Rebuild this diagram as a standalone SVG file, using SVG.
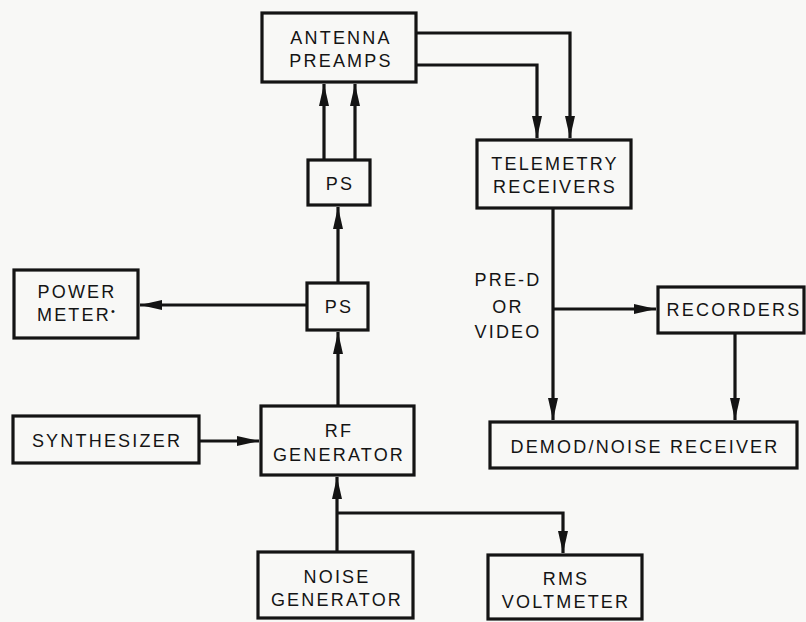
<svg xmlns="http://www.w3.org/2000/svg" width="806" height="622" viewBox="0 0 806 622">
<defs>
<style>
.box{fill:none;stroke:#141414;stroke-width:3.2}
.lbl{font-family:"Liberation Sans",Arial,sans-serif;font-size:18px;fill:#141414;text-anchor:middle;letter-spacing:2.2px}
.ln{fill:none;stroke:#141414;stroke-width:3.2}
.sup{font-size:11px}
</style>
<marker id="ah" viewBox="0 0 22 10" refX="22" refY="5" markerWidth="22" markerHeight="10" markerUnits="userSpaceOnUse" orient="auto">
<path d="M0,0 L22,5 L0,10 Z" fill="#141414"/>
</marker>
</defs>
<rect width="806" height="622" fill="#f8f8f6"/>
<g id="connectors">
<path class="ln" d="M324,160 V84" marker-end="url(#ah)"/>
<path class="ln" d="M355,160 V84" marker-end="url(#ah)"/>
<path class="ln" d="M416,33 H570 V138" marker-end="url(#ah)"/>
<path class="ln" d="M416,65 H537 V138" marker-end="url(#ah)"/>
<path class="ln" d="M338,283 V207" marker-end="url(#ah)"/>
<path class="ln" d="M338,406 V332" marker-end="url(#ah)"/>
<path class="ln" d="M307,305 H140" marker-end="url(#ah)"/>
<path class="ln" d="M199,441 H259" marker-end="url(#ah)"/>
<path class="ln" d="M337,552 V477" marker-end="url(#ah)"/>
<path class="ln" d="M337,513 H563 V553" marker-end="url(#ah)"/>
<path class="ln" d="M553,208 V420" marker-end="url(#ah)"/>
<path class="ln" d="M553,309 H656" marker-end="url(#ah)"/>
<path class="ln" d="M735,333 V420" marker-end="url(#ah)"/>
</g>
<g id="antenna-preamps">
<rect class="box" x="262" y="13" width="154" height="69"/>
<text class="lbl" x="341" y="44">ANTENNA</text>
<text class="lbl" x="341" y="67">PREAMPS</text>
</g>
<g id="ps-top">
<rect class="box" x="308" y="160" width="62" height="45"/>
<text class="lbl" x="340" y="190">PS</text>
</g>
<g id="ps-mid">
<rect class="box" x="307" y="283" width="61" height="47"/>
<text class="lbl" x="339" y="313">PS</text>
</g>
<g id="power-meter">
<rect class="box" x="14" y="270" width="124" height="68"/>
<text class="lbl" x="77" y="298">POWER</text>
<text class="lbl" x="77" y="321">METER<tspan class="sup" dy="-6">•</tspan></text>
</g>
<g id="synthesizer">
<rect class="box" x="13" y="416" width="186" height="47"/>
<text class="lbl" x="107" y="447">SYNTHESIZER</text>
</g>
<g id="rf-generator">
<rect class="box" x="261" y="406" width="153" height="69"/>
<text class="lbl" x="339" y="437">RF</text>
<text class="lbl" x="339" y="461">GENERATOR</text>
</g>
<g id="noise-generator">
<rect class="box" x="258" y="552" width="155" height="66"/>
<text class="lbl" x="337" y="583">NOISE</text>
<text class="lbl" x="337" y="606">GENERATOR</text>
</g>
<g id="rms-voltmeter">
<rect class="box" x="488" y="555" width="154" height="64"/>
<text class="lbl" x="566" y="585">RMS</text>
<text class="lbl" x="566" y="608">VOLTMETER</text>
</g>
<g id="telemetry-receivers">
<rect class="box" x="477" y="140" width="154" height="68"/>
<text class="lbl" x="555" y="170">TELEMETRY</text>
<text class="lbl" x="555" y="193">RECEIVERS</text>
</g>
<g id="recorders">
<rect class="box" x="658" y="287" width="146" height="46"/>
<text class="lbl" x="734" y="316">RECORDERS</text>
</g>
<g id="demod-noise-receiver">
<rect class="box" x="490" y="422" width="307" height="46"/>
<text class="lbl" x="645" y="453">DEMOD/NOISE RECEIVER</text>
</g>
<g id="pre-d-label">
<text class="lbl" x="508" y="286">PRE-D</text>
<text class="lbl" x="508" y="313">OR</text>
<text class="lbl" x="508" y="338">VIDEO</text>
</g>
</svg>
